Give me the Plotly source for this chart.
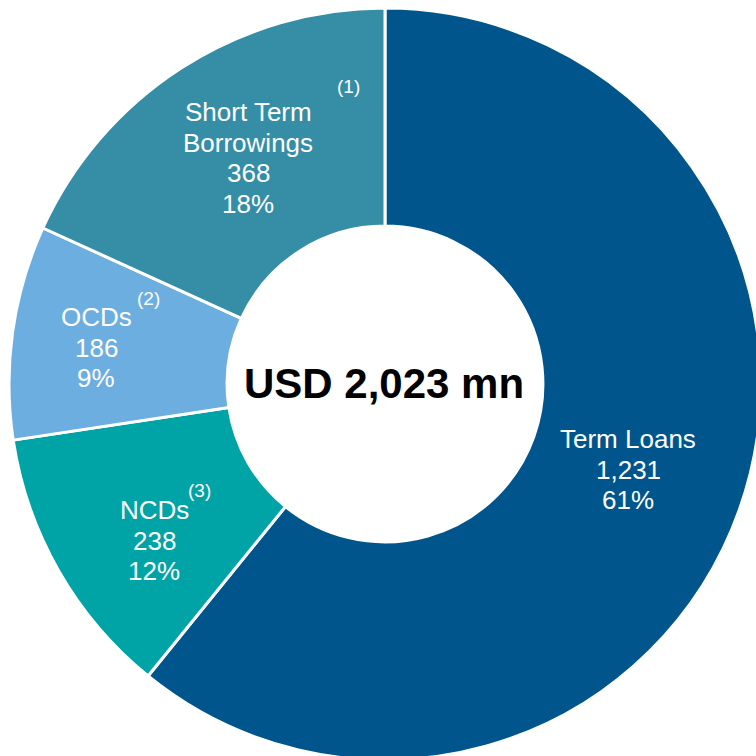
import plotly.graph_objects as go

# Funding mix (USD mn), clockwise from 12 o'clock
categorias = ["Term Loans", "NCDs", "OCDs", "Short Term Borrowings"]
etiquetas = [["Term Loans"], ["NCDs"], ["OCDs"], ["Short Term", "Borrowings"]]
montos = [1231, 238, 186, 368]
notas = ["", "(3)", "(2)", "(1)"]
colores = ["#00558C", "#00A3A6", "#6CAEDF", "#358EA6"]

total = sum(montos)

W = H = 770
FUENTE = "Liberation Sans, Arial"


def px_to_paper(x, y):
    return x / W, 1 - y / H


# donut centre and outer radius, in page pixels
CX, CY, R = 385, 384, 376

# first line centre of each label block / footnote marker, in page pixels
pos_etiqueta = [(628, 439), (154, 510), (96, 317), (248, 112)]
pos_nota = [None, (200, 490), (148, 298), (348, 86)]
interlineado = 30.7

fig = go.Figure(go.Pie(
    labels=categorias,
    values=montos,
    sort=False,
    direction="clockwise",
    rotation=0,
    hole=0.42,
    textinfo="none",
    hoverinfo="label+value+percent",
    marker=dict(colors=colores, line=dict(color="white", width=3)),
    domain=dict(x=[(CX - R) / W, (CX + R) / W],
                y=[(H - CY - R) / H, (H - CY + R) / H]),
))

anotaciones = []
for i in range(len(categorias)):
    pct = round(montos[i] / total * 100)
    lineas = etiquetas[i] + [f"{montos[i]:,}", f"{pct}%"]
    x0, y0 = pos_etiqueta[i]
    for k, linea in enumerate(lineas):
        x, y = px_to_paper(x0, y0 + k * interlineado)
        anotaciones.append(dict(
            x=x, y=y, xref="paper", yref="paper", showarrow=False,
            text=linea,
            font=dict(family=FUENTE, size=26, color="white"),
            xanchor="center", yanchor="middle",
        ))
    if pos_nota[i]:
        x, y = px_to_paper(*pos_nota[i])
        anotaciones.append(dict(
            x=x, y=y, xref="paper", yref="paper", showarrow=False,
            text=notas[i],
            font=dict(family=FUENTE, size=19, color="white"),
            xanchor="center", yanchor="middle",
        ))

cx, cy = px_to_paper(384, 384)
anotaciones.append(dict(
    x=cx, y=cy, xref="paper", yref="paper", showarrow=False,
    text=f"<b>USD {total:,} mn</b>",
    font=dict(family=FUENTE, size=42, color="black"),
    xanchor="center", yanchor="middle",
))

fig.update_layout(
    width=W, height=H,
    margin=dict(l=0, r=0, t=0, b=0),
    showlegend=False,
    paper_bgcolor="white",
    annotations=anotaciones,
)

# chart starts at the page corner and runs past the window edge
fig.write_html(
    "out.html",
    config={"displayModeBar": False},
    post_script="document.body.style.margin = '0';"
                "document.documentElement.style.overflow = 'hidden';",
)
